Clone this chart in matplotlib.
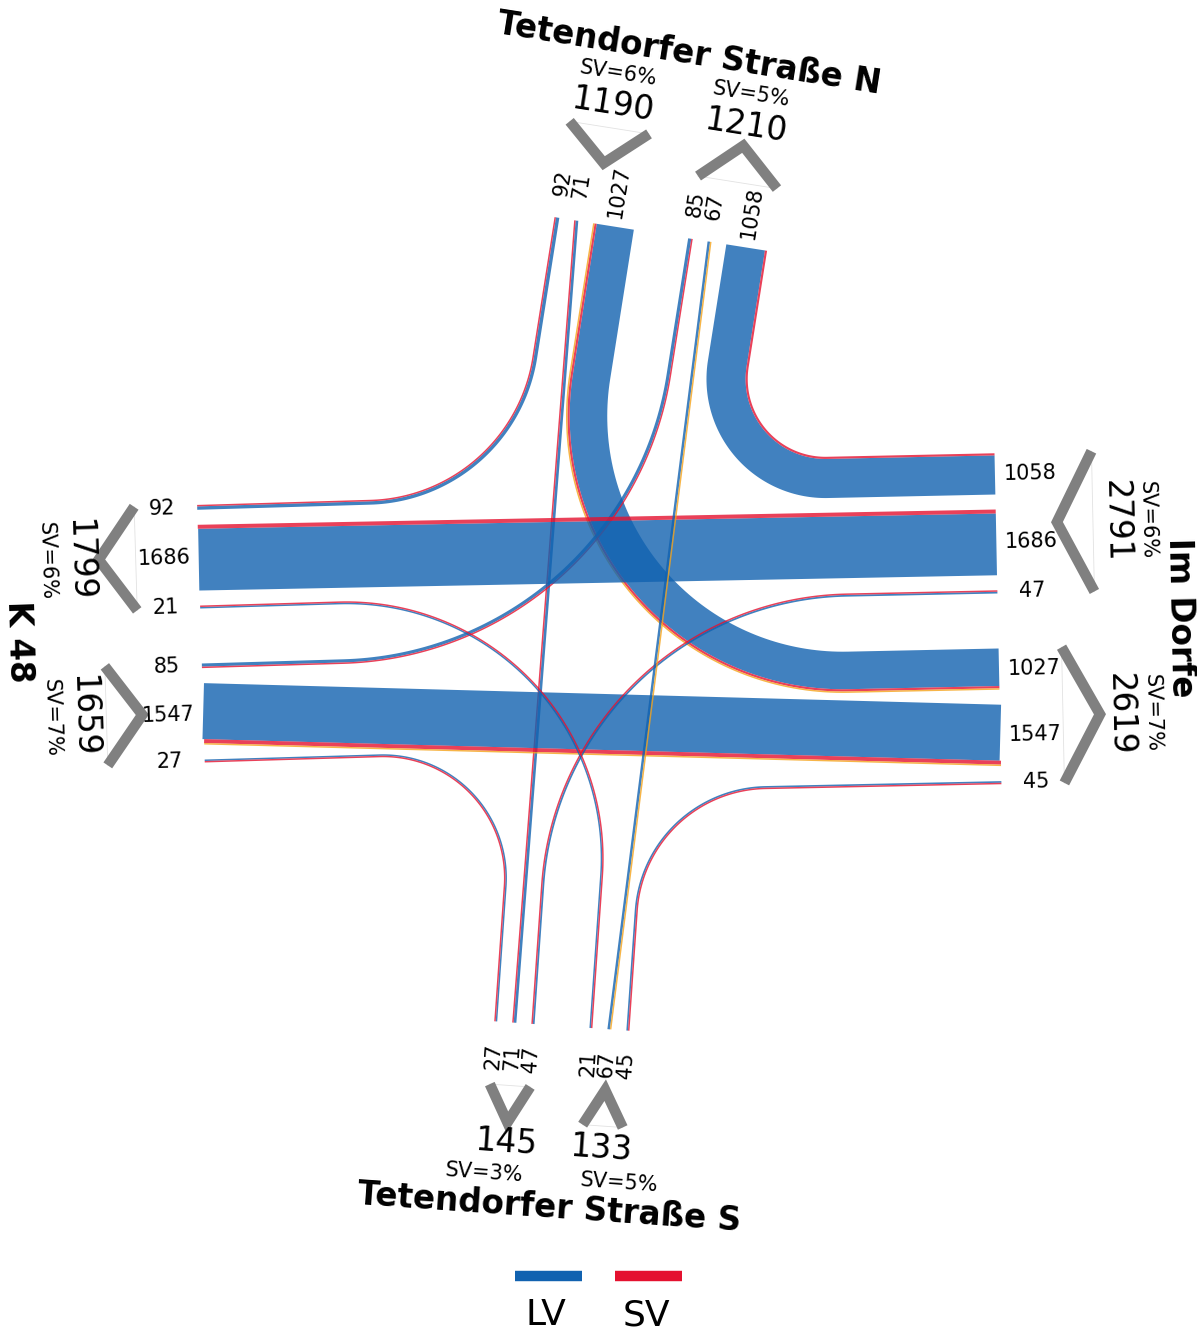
import numpy as np
import matplotlib.pyplot as plt

# arms of the junction
arms = ['N', 'E', 'S', 'W']
street = ['Tetendorfer Straße N', 'Im Dorfe', 'Tetendorfer Straße S', 'K 48']

# turning movements: origin -> destination, all vehicles, trucks (SV), buses
origin = ['N', 'N', 'N', 'W', 'W', 'W', 'E', 'E', 'E', 'S', 'S', 'S']
dest = ['W', 'S', 'E', 'N', 'S', 'E', 'N', 'W', 'S', 'W', 'N', 'E']
total = [92, 71, 1027, 85, 27, 1547, 1058, 1686, 47, 21, 67, 45]
sv = [5, 2, 56, 4, 1, 100, 55, 102, 2, 1, 0, 3]
bus = [0, 0, 8, 0, 0, 11, 0, 0, 0, 0, 3, 0]

# layout (pixels, y downwards)
anchor = {'N': (661, 234), 'E': (998, 621), 'S': (562, 1026), 'W': (201, 636)}
angle = {'N': -81.0, 'E': -1.2, 'S': 94.0, 'W': 178.3}
sv_shift = {'N': 0, 'E': 0, 'S': 20, 'W': 0}
SCALE = 0.039      # px per vehicle
HALF_GAP = 27.5
LANE_GAP = 15
MIN_W = 1.5
PT = 0.72          # points per pixel at 100 dpi

C_LV = '#1162b0'
C_SV = '#e4112f'
C_BUS = '#f5a31a'
GREY = '#808080'

anc = {k: np.array(v, float) for k, v in anchor.items()}
u = {k: np.array([np.cos(np.radians(a)), np.sin(np.radians(a))]) for k, a in angle.items()}
p = {k: np.array([-v[1], v[0]]) for k, v in u.items()}


def kind_of(A, B):
    a, b = -u[A], u[B]
    if a @ b > 0.9:
        return 1
    cross = a[0] * b[1] - a[1] * b[0]
    return 0 if cross < 0 else 2


n = len(total)
kind = [kind_of(origin[i], dest[i]) for i in range(n)]

# drawn width of every part of a movement (thin parts kept visible)
parts = []
for i in range(n):
    vals = [(total[i] - sv[i] - bus[i], C_LV), (sv[i], C_SV), (bus[i], C_BUS)]
    parts.append([(max(v * SCALE, MIN_W), c) for v, c in vals if v > 0])
width = [sum(w for w, _ in pr) for pr in parts]

# stack lanes on every arm
s_in = [0.0] * n
s_out = [0.0] * n
groups = {}
for arm in arms:
    ins = sorted([i for i in range(n) if origin[i] == arm], key=lambda i: kind[i])
    cur = -HALF_GAP
    for i in ins:
        s_in[i] = cur
        cur -= width[i] + LANE_GAP
    groups[(arm, 'in')] = (ins, -HALF_GAP, cur + LANE_GAP)
    outs = sorted([i for i in range(n) if dest[i] == arm], key=lambda i: kind[i])
    cur = HALF_GAP
    for i in outs:
        s_out[i] = cur
        cur += width[i] + LANE_GAP
    groups[(arm, 'out')] = (outs, HALF_GAP, cur - LANE_GAP)


def corner(P0, a, P3, b):
    t, s = np.linalg.solve(np.column_stack([a, b]), P3 - P0)
    return P0 + t * a, t, s


def lane_path(i, q):
    A, B = origin[i], dest[i]
    a, b = -u[A], u[B]
    P0 = anc[A] + (s_in[i] - q) * p[A]
    P3 = anc[B] + (s_out[i] + q) * p[B]
    if kind[i] == 1:
        return np.array([P0, P3])
    th = np.arccos(np.clip(a @ b, -1, 1))
    w = width[i]
    _, t0, s0 = corner(anc[A] + (s_in[i] - w / 2) * p[A], a,
                       anc[B] + (s_out[i] + w / 2) * p[B], b)
    frac = 0.67 if kind[i] == 0 else 0.5
    Rc = frac * min(t0, s0) / np.tan(th / 2)
    d = q - w / 2
    R = Rc + d if kind[i] == 0 else Rc - d
    C, t, s = corner(P0, a, P3, b)
    T = R * np.tan(th / 2)
    S1 = C - T * a
    E1 = C + T * b
    nrm = np.array([a[1], -a[0]]) if kind[i] == 0 else np.array([-a[1], a[0]])
    O = S1 + R * nrm
    a0 = np.arctan2(*(S1 - O)[::-1])
    a1 = np.arctan2(*(E1 - O)[::-1])
    dl = (a1 - a0 + np.pi) % (2 * np.pi) - np.pi
    angs = a0 + dl * np.linspace(0, 1, 80)
    arc = O + R * np.column_stack([np.cos(angs), np.sin(angs)])
    return np.vstack([P0, arc, P3])


def rot_of(v):
    return np.degrees(np.arctan2(-v[1], v[0]))


def rot_u(arm):
    r = rot_of(u[arm])
    return r if -90 < r <= 90 else rot_of(-u[arm])


def rot_p(arm):
    r = rot_of(p[arm])
    return r if -135 < r <= 45 else rot_of(-p[arm])


def pos(arm, s, dist):
    return anc[arm] + s * p[arm] + dist * u[arm]


fig = plt.figure(figsize=(11.97, 13.33), dpi=100)
ax = fig.add_axes([0, 0, 1, 1])
ax.set_xlim(0, 1197)
ax.set_ylim(1333, 0)
ax.axis('off')

# flows
for i in range(n):
    q = 0.0
    for w, col in parts[i]:
        pts = lane_path(i, q + w / 2)
        ax.plot(pts[:, 0], pts[:, 1], color=col, alpha=0.8, lw=w * PT,
                solid_capstyle='butt', solid_joinstyle='round')
        q += w

# lane labels
for i in range(n):
    x, y = pos(origin[i], s_in[i] - width[i] / 2, 35)
    ax.text(x, y, str(total[i]), fontsize=15, ha='center', va='center',
            rotation=rot_u(origin[i]), rotation_mode='anchor')
    x, y = pos(dest[i], s_out[i] + width[i] / 2, 35)
    ax.text(x, y, str(total[i]), fontsize=15, ha='center', va='center',
            rotation=rot_u(dest[i]), rotation_mode='anchor')

# chevrons, totals and heavy-traffic share per arm direction
for (arm, way), (idx, s1, s2) in groups.items():
    sc = (s1 + s2) / 2
    if way == 'in':
        d_tip, d_vert = 97, 61
    else:
        d_tip, d_vert = 63, 100
    t1, t2, v = pos(arm, s1, d_tip), pos(arm, s2, d_tip), pos(arm, sc, d_vert)
    ax.plot([t1[0], t2[0]], [t1[1], t2[1]], color='#e2e2e2', lw=0.6)
    ax.plot([t1[0], v[0], t2[0]], [t1[1], v[1], t2[1]], color=GREY, lw=7.6,
            solid_capstyle='butt', solid_joinstyle='miter')
    tot = sum(total[i] for i in idx)
    share = sum(sv[i] + bus[i] for i in idx) / tot * 100
    x, y = pos(arm, sc, 120)
    ax.text(x, y, str(tot), fontsize=23.5, ha='center', va='center',
            rotation=rot_p(arm), rotation_mode='anchor')
    away = 1 if way == 'out' else -1
    x, y = pos(arm, sc + away * sv_shift[arm], 152)
    ax.text(x, y, 'SV=%d%%' % round(share), fontsize=15, ha='center', va='center',
            rotation=rot_p(arm), rotation_mode='anchor')

# street names
for arm, name in zip(arms, street):
    x, y = pos(arm, 0, 182)
    ax.text(x, y, name, fontsize=23.5, fontweight='bold', ha='center', va='center',
            rotation=rot_p(arm), rotation_mode='anchor')

# legend
for x0, col, lab in [(515, C_LV, 'LV'), (615, C_SV, 'SV')]:
    ax.plot([x0, x0 + 67], [1276, 1276], color=col, lw=7.5, solid_capstyle='butt')
    ax.text(x0 + 31, 1315, lab, fontsize=26, ha='center', va='center')

fig.savefig('out.png', dpi=100)
